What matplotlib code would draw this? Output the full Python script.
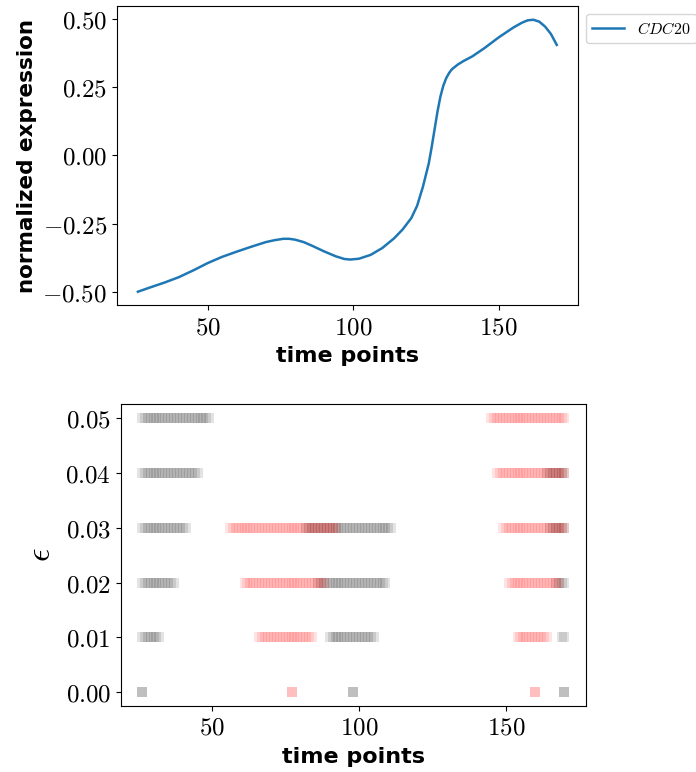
import matplotlib
matplotlib.use('Agg')
import matplotlib.pyplot as plt
import numpy as np
from matplotlib.ticker import FuncFormatter

plt.rcParams['mathtext.fontset'] = 'cm'

# Kurve CDC20:
t = [26, 30, 35, 40, 45, 50, 55, 60, 65, 70, 73, 76, 78, 80, 83, 86, 90, 94,
     97, 99, 102, 106, 110, 114, 117, 120, 122, 124, 126, 127, 128, 129, 130,
     131, 132, 133, 134, 136, 138, 141, 145, 150, 155, 158, 160, 162, 164, 166,
     168, 170]
expr = [-0.500, -0.485, -0.467, -0.447, -0.422, -0.395, -0.372, -0.353, -0.335,
        -0.318, -0.311, -0.306, -0.306, -0.309, -0.318, -0.332, -0.352, -0.370,
        -0.380, -0.382, -0.379, -0.365, -0.340, -0.305, -0.272, -0.230, -0.185,
        -0.115, -0.030, 0.030, 0.095, 0.160, 0.215, 0.255, 0.283, 0.302, 0.316,
        0.333, 0.346, 0.363, 0.392, 0.432, 0.468, 0.486, 0.495, 0.497, 0.490,
        0.472, 0.445, 0.405]

# Intervalle nahe Minimum (grau) und Maximum (rot) je epsilon:
eps = [0.00, 0.01, 0.02, 0.03, 0.04, 0.05]
min_iv = [
    [(26, 26), (98, 98), (170, 170)],
    [(26, 32), (90, 105), (169, 170)],
    [(26, 37), (86, 109), (167, 170)],
    [(26, 41), (82, 111), (165, 170)],
    [(26, 45), (164, 170)],
    [(26, 49)],
]
max_iv = [
    [(77, 77), (160, 160)],
    [(66, 84), (154, 164)],
    [(61, 88), (151, 168)],
    [(56, 92), (149, 170)],
    [(147, 170)],
    [(145, 170)],
]

fig = plt.figure(figsize=(6.96, 7.72), dpi=100)
ax1 = fig.add_axes([0.168, 0.6045, 0.662, 0.3875])
ax2 = fig.add_axes([0.1734, 0.0855, 0.668, 0.391])

mathfmt = lambda d: FuncFormatter(lambda v, p: r'$%.*f$' % (d, v))

# oben
ax1.plot(t, expr, color='#1f77b4', lw=1.8, label=r'$CDC20$')
ax1.set_yticks([-0.5, -0.25, 0, 0.25, 0.5])
ax1.set_xticks([50, 100, 150])
ax1.yaxis.set_major_formatter(mathfmt(2))
ax1.xaxis.set_major_formatter(mathfmt(0))
ax1.tick_params(labelsize=18)
ax1.set_xlabel('time points', fontsize=16, fontweight='bold', labelpad=5)
ax1.set_ylabel('normalized expression', fontsize=15.5, fontweight='bold', labelpad=4)
ax1.legend(loc='upper left', bbox_to_anchor=(1.0, 1.0), fontsize=11.5)

# unten
for e, ivs_min, ivs_max in zip(eps, min_iv, max_iv):
    a = 0.25 if e == 0 else 0.11
    for lo, hi in ivs_min:
        xs = np.arange(lo, hi + 1)
        ax2.scatter(xs, np.full(len(xs), e), marker='s', s=47, c='k',
                    alpha=a, linewidths=0)
    for lo, hi in ivs_max:
        xs = np.arange(lo, hi + 1)
        ax2.scatter(xs, np.full(len(xs), e), marker='s', s=47, c='r',
                    alpha=a, linewidths=0)

ax2.set_xlim(18.8, 177.2)
ax2.set_yticks(eps)
ax2.set_xticks([50, 100, 150])
ax2.yaxis.set_major_formatter(mathfmt(2))
ax2.xaxis.set_major_formatter(mathfmt(0))
ax2.tick_params(labelsize=18)
ax2.set_xlabel('time points', fontsize=16, fontweight='bold', labelpad=5)
ax2.set_ylabel(r'$\epsilon$', fontsize=24, labelpad=6)

fig.savefig('out.png', dpi=100)
